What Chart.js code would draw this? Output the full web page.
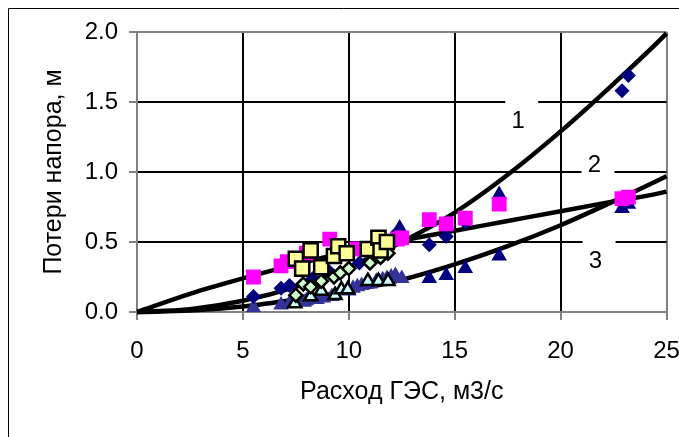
<!DOCTYPE html>
<html>
<head>
<meta charset="utf-8">
<script src="https://cdn.jsdelivr.net/npm/chart.js@4.4.0/dist/chart.umd.min.js"></script>
<style>
  html, body { margin: 0; padding: 0; background: #fff; }
</style>
</head>
<body>
<canvas id="losses" width="679" height="437"></canvas>
<script>
// measured points (discharge, m3/s -> head loss, m)
var navyDiamondX = [5.5, 6.8, 7.2, 8.3, 9.0, 10.5, 11.2, 12.3, 13.8, 14.6, 15.5, 22.9, 23.2];
var navyDiamondY = [0.11, 0.17, 0.19, 0.24, 0.30, 0.35, 0.42, 0.57, 0.48, 0.54, 0.64, 1.58, 1.69];

var magentaX = [5.5, 6.8, 7.1, 8.0, 9.1, 10.4, 12.3, 12.5, 13.8, 14.6, 15.5, 17.1, 22.9, 23.2];
var magentaY = [0.25, 0.33, 0.36, 0.42, 0.52, 0.45, 0.52, 0.53, 0.66, 0.63, 0.67, 0.77, 0.81, 0.82];

var yellowX = [7.5, 7.8, 8.2, 8.7, 9.3, 9.5, 9.9, 10.9, 11.4, 11.5, 11.8];
var yellowY = [0.38, 0.31, 0.44, 0.32, 0.40, 0.47, 0.42, 0.45, 0.53, 0.44, 0.50];

var greenX = [7.5, 7.85, 8.2, 8.7, 9.3, 9.6, 10.0, 11.0, 11.5, 11.85];
var greenY = [0.12, 0.20, 0.18, 0.22, 0.25, 0.28, 0.31, 0.35, 0.39, 0.42];

var cyanX = [7.45, 8.2, 8.7, 9.35, 9.65, 9.95, 10.9, 11.4, 11.85];
var cyanY = [0.06, 0.11, 0.15, 0.12, 0.16, 0.16, 0.22, 0.22, 0.22];

var slateTriX = [5.5, 6.8, 7.2, 7.5, 7.9, 8.0, 8.5, 8.8, 9.2, 10.0, 10.2, 10.4, 10.6, 10.8, 11.0, 11.3, 11.6, 11.8, 12.0, 12.2, 12.5];
var slateTriY = [0.03, 0.05, 0.06, 0.07, 0.07, 0.08, 0.09, 0.10, 0.11, 0.15, 0.17, 0.18, 0.19, 0.20, 0.20, 0.22, 0.23, 0.24, 0.25, 0.26, 0.24];

var navyTriX = [12.4, 13.8, 14.6, 15.5, 17.1, 17.1, 22.9, 23.2];
var navyTriY = [0.60, 0.24, 0.26, 0.31, 0.40, 0.84, 0.74, 0.77];

// calculated curves 1, 2, 3
var curve1X = [0, 2.5, 5, 7.5, 10, 12.5, 15, 17.5, 20, 22.5, 25, 25.3];
var curve1Y = [0, 0.02, 0.08, 0.18, 0.32, 0.50, 0.71, 0.98, 1.29, 1.63, 1.99, 2.04];
var curve2X = [0, 2.5, 5, 7.5, 10, 12.5, 15, 17.5, 20, 22.5, 25, 25.4];
var curve2Y = [0, 0.13, 0.24, 0.34, 0.43, 0.51, 0.58, 0.65, 0.72, 0.79, 0.86, 0.88];
var curve3X = [0, 2.5, 5, 7.5, 10, 12.5, 15, 17.5, 20, 22.5, 25, 25.4];
var curve3Y = [0, 0.01, 0.04, 0.09, 0.15, 0.23, 0.34, 0.47, 0.62, 0.79, 0.97, 1.00];

var curveLabels = ['1', '2', '3'];
var labelX = [18.0, 21.6, 21.65];
var labelY = [1.36, 1.05, 0.365];

function toPoints(xs, ys) {
    var pts = [];
    for (var i in xs) {
        pts.push({x: xs[i], y: ys[i]});
    }
    return pts;
}

var FONT = "'Liberation Sans', Arial, sans-serif";

function scatterSet(xs, ys, style, radius, fill, border, order) {
    return {
        data: toPoints(xs, ys),
        pointStyle: style,
        pointRadius: radius,
        backgroundColor: fill,
        borderColor: border || fill,
        borderWidth: border ? 2.5 : 0,
        showLine: false,
        order: order
    };
}

function curveSet(xs, ys) {
    return {
        data: toPoints(xs, ys),
        showLine: true,
        borderColor: '#000',
        borderWidth: 4.5,
        pointRadius: 0,
        cubicInterpolationMode: 'monotone',
        clip: false,
        order: 10
    };
}

// white frame with left/top edge, like the cropped Excel chart
var framePlugin = {
    id: 'frame',
    beforeDraw: function(chart) {
        var ctx = chart.ctx;
        ctx.save();
        ctx.fillStyle = '#fff';
        ctx.fillRect(0, 0, chart.width, chart.height);
        ctx.strokeStyle = '#000';
        ctx.lineWidth = 1;
        ctx.beginPath();
        ctx.moveTo(8.5, chart.height);
        ctx.lineTo(8.5, 8.5);
        ctx.lineTo(chart.width, 8.5);
        ctx.stroke();
        ctx.restore();
    }
};

// numbered text boxes next to the curves
var labelPlugin = {
    id: 'curveLabels',
    afterDraw: function(chart) {
        var ctx = chart.ctx;
        var xs = chart.scales.x, ys = chart.scales.y;
        ctx.save();
        ctx.font = '24px ' + FONT;
        ctx.textAlign = 'center';
        ctx.textBaseline = 'middle';
        for (var i in curveLabels) {
            var px = xs.getPixelForValue(labelX[i]);
            var py = ys.getPixelForValue(labelY[i]);
            ctx.fillStyle = '#fff';
            ctx.fillRect(px - 13, py - 22, 33, 38);
            ctx.fillStyle = '#000';
            ctx.fillText(curveLabels[i], px, py);
        }
        ctx.restore();
    }
};

function gridColor(edgeA, edgeB) {
    return function(c) {
        if (!c.tick) return '#000';
        return (c.tick.value === edgeA || c.tick.value === edgeB) ? '#808080' : '#000';
    };
}

var ctx = document.getElementById('losses');

var lossChart = new Chart(ctx, {
    type: 'scatter',
    data: {
        datasets: [
            scatterSet(yellowX, yellowY, 'rect', 10, '#FFFF99', '#000', 1),
            scatterSet(greenX, greenY, 'rectRot', 6.5, '#CCFFCC', '#000', 2),
            scatterSet(cyanX, cyanY, 'triangle', 7.5, '#CCFFFF', '#000', 3),
            scatterSet(magentaX, magentaY, 'rect', 10.5, '#FF00FF', null, 4),
            scatterSet(navyDiamondX, navyDiamondY, 'rectRot', 7.5, '#000080', null, 5),
            scatterSet(navyTriX, navyTriY, 'triangle', 9, '#000080', null, 6),
            scatterSet(slateTriX, slateTriY, 'triangle', 9, '#333399', null, 7),
            curveSet(curve1X, curve1Y),
            curveSet(curve2X, curve2Y),
            curveSet(curve3X, curve3Y)
        ]
    },
    options: {
        responsive: false,
        animation: false,
        layout: { padding: { top: 32, right: 0, left: 0, bottom: 0 } },
        plugins: {
            legend: { display: false },
            tooltip: { enabled: false }
        },
        scales: {
            x: {
                type: 'linear',
                min: 0,
                max: 25,
                ticks: {
                    stepSize: 5,
                    color: '#000',
                    padding: 17,
                    font: { family: FONT, size: 24 }
                },
                grid: {
                    color: gridColor(0, 25),
                    lineWidth: 2,
                    tickLength: 8,
                    tickColor: '#808080'
                },
                border: { color: '#808080', width: 2 },
                title: {
                    display: true,
                    text: 'Расход ГЭС, м3/с',
                    color: '#000',
                    font: { family: FONT, size: 25 },
                    padding: { top: 4, bottom: 29.5 }
                },
                afterFit: function(scale) {
                    scale.height = 125;
                    scale.paddingLeft = 0;
                    scale.paddingRight = 12;
                }
            },
            y: {
                type: 'linear',
                min: 0,
                max: 2,
                ticks: {
                    stepSize: 0.5,
                    color: '#000',
                    padding: 11,
                    font: { family: FONT, size: 24 },
                    callback: function(v) { return v.toFixed(1); }
                },
                grid: {
                    color: gridColor(0, 2),
                    lineWidth: 2,
                    tickLength: 8,
                    tickColor: '#808080'
                },
                border: { color: '#808080', width: 2 },
                title: {
                    display: true,
                    text: 'Потери напора, м',
                    color: '#000',
                    font: { family: FONT, size: 25 },
                    padding: { top: 39, bottom: 4 }
                },
                afterFit: function(scale) {
                    scale.width = 137;
                    scale.paddingTop = 0;
                    scale.paddingBottom = 0;
                }
            }
        }
    },
    plugins: [framePlugin, labelPlugin]
});
</script>
</body>
</html>
